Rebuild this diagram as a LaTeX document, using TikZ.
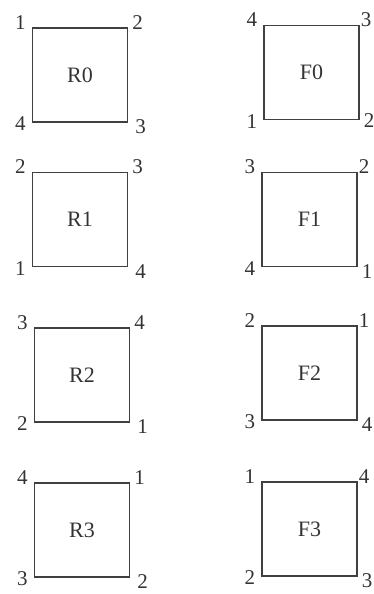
\documentclass[tikz,border=0pt]{standalone}
\usepackage{fontspec}
\setmainfont{Liberation Serif}
\begin{document}
\begin{tikzpicture}[x=1pt, y=-1pt,
	box/.style={draw=black!75, line width=1.2pt, minimum width=95pt, minimum height=94pt,
		inner sep=0pt, text=black!80, font=\fontsize{22}{26}\selectfont},
	num/.style={inner sep=0pt, text=black!80, font=\fontsize{21}{25}\selectfont},
	tl/.style={num, anchor=east, xshift=-6pt, yshift=5pt},
	tr/.style={num, anchor=west, xshift=4pt, yshift=5pt},
	bl/.style={num, anchor=east, xshift=-6pt, yshift=-1pt},
	br/.style={num, anchor=west, xshift=7pt, yshift=-4pt},
	tight/.style={xshift=-3pt}]
	
	% 0. 图幅大小
	\useasboundingbox (0,0) rectangle (374,594);
	
	% 1. 左列方框 R0 -- R3
	\node[box] (R0) at (80,75) {R0};
	\node[box] (R1) at (80,219.5) {R1};
	\node[box] (R2) at (82,375) {R2};
	\node[box] (R3) at (82,530) {R3};
	
	% 2. 右列方框 F0 -- F3
	\node[box] (F0) at (311.5,72.5) {F0};
	\node[box] (F1) at (309.5,219.5) {F1};
	\node[box] (F2) at (309.5,373) {F2};
	\node[box] (F3) at (309.5,529) {F3};
	
	% 3. 左列角点编号 (左上、右上、右下、左下)
	\node[tl] (R0-1) at (R0.north west) {1};
	\node[tr] (R0-2) at (R0.north east) {2};
	\node[br] (R0-3) at (R0.south east) {3};
	\node[bl] (R0-4) at (R0.south west) {4};
	
	\node[tl] (R1-2) at (R1.north west) {2};
	\node[tr] (R1-3) at (R1.north east) {3};
	\node[br] (R1-4) at (R1.south east) {4};
	\node[bl] (R1-1) at (R1.south west) {1};
	
	\node[tl] (R2-3) at (R2.north west) {3};
	\node[tr] (R2-4) at (R2.north east) {4};
	\node[br] (R2-1) at (R2.south east) {1};
	\node[bl] (R2-2) at (R2.south west) {2};
	
	\node[tl] (R3-4) at (R3.north west) {4};
	\node[tr] (R3-1) at (R3.north east) {1};
	\node[br] (R3-2) at (R3.south east) {2};
	\node[bl] (R3-3) at (R3.south west) {3};
	
	% 4. 右列角点编号 (翻转后的顺序, 右侧贴近图边)
	\node[tl] (F0-4) at (F0.north west) {4};
	\node[tr, tight] (F0-3) at (F0.north east) {3};
	\node[br, tight, yshift=4pt] (F0-2) at (F0.south east) {2};
	\node[bl] (F0-1) at (F0.south west) {1};
	
	\node[tl] (F1-3) at (F1.north west) {3};
	\node[tr, tight] (F1-2) at (F1.north east) {2};
	\node[br, tight] (F1-1) at (F1.south east) {1};
	\node[bl] (F1-4) at (F1.south west) {4};
	
	\node[tl] (F2-2) at (F2.north west) {2};
	\node[tr, tight] (F2-1) at (F2.north east) {1};
	\node[br, tight] (F2-4) at (F2.south east) {4};
	\node[bl] (F2-3) at (F2.south west) {3};
	
	\node[tl] (F3-1) at (F3.north west) {1};
	\node[tr, tight] (F3-4) at (F3.north east) {4};
	\node[br, tight] (F3-3) at (F3.south east) {3};
	\node[bl] (F3-2) at (F3.south west) {2};
	
\end{tikzpicture}
\end{document}
